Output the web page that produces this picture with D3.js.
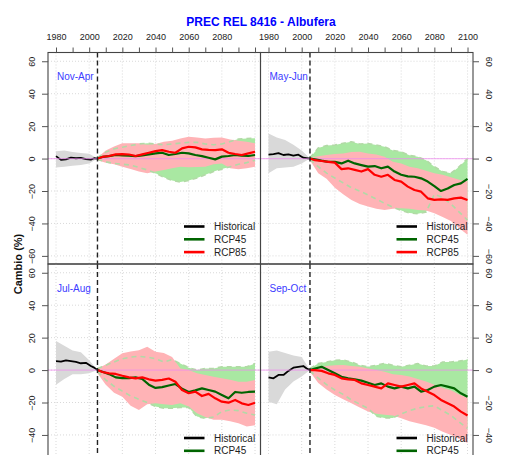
<!DOCTYPE html>
<html><head><meta charset="utf-8">
<script src="https://cdn.jsdelivr.net/npm/d3@7"></script>
<style>
html,body{margin:0;padding:0;background:#fff;overflow:hidden;}
svg{display:block;font-family:"Liberation Sans",Arial,Helvetica,sans-serif;}
</style></head>
<body><svg id="c" width="516" height="455"></svg>
<script>
// ---------- DATA ----------
const title = "PREC REL 8416 - Albufera";
const yLabel = "Cambio (%)";
const seasons = ["Nov-Apr", "May-Jun", "Jul-Aug", "Sep-Oct"];
const legendLabels = ["Historical", "RCP45", "RCP85"];
const xTickValues = [1980, 1990, 2000, 2010, 2020, 2030, 2040, 2050, 2060, 2070, 2080, 2090, 2100];
const xGridValues = [1980, 2000, 2020, 2040, 2060, 2080, 2100];
const yTickValues = [-60, -40, -20, 0, 20, 40, 60];
const refYear = 2005;

const histYears = [1980, 1983, 1986, 1989, 1992, 1995, 1998, 2001, 2003, 2005];
const histBandYears = [1980, 1985, 1990, 1995, 2000, 2005];
const projYears = [2005, 2008, 2012, 2016, 2020, 2024, 2028, 2032, 2036, 2040, 2044, 2048, 2052, 2056, 2060, 2064, 2068, 2072, 2076, 2080, 2084, 2088, 2092, 2096, 2100];
const bandYears = [2005, 2010, 2015, 2020, 2025, 2030, 2035, 2040, 2045, 2050, 2055, 2060, 2065, 2070, 2075, 2080, 2085, 2090, 2095, 2100];

// Nov-Apr
const novApr_hist   = [1.5, -0.8, -0.5, 0.6, 0.2, 0.4, -0.3, -0.6, 0.2, 0];
const novApr_histUp = [4.5, 5, 4, 3.5, 3, 0];
const novApr_histLo = [-5.5, -5, -4.5, -4, -3, 0];
const novApr_rcp45  = [0, 1, 1.5, 2.2, 2, 1.8, 1.5, 2, 2.6, 3.2, 3.6, 2.2, 2.8, 3.6, 3.2, 2.2, 1.5, 0.5, -0.5, 1.2, 1.6, 2.2, 1.8, 1.6, 2.2];
const novApr_rcp85  = [0, 1, 1.6, 2.6, 2.8, 2.5, 1.6, 2.6, 3.6, 4.6, 5.2, 4.2, 3.6, 6.3, 7.3, 6.9, 5.7, 5.4, 5.2, 5.7, 3.6, 2.8, 2.2, 3.2, 4.2];
const novApr_rcp45Up = [0.5, 4, 6, 7, 8, 9, 9.5, 9, 8.5, 9, 9.5, 10, 10, 9, 8.5, 9, 10.5, 12, 12.4, 12.5];
const novApr_rcp45Lo = [-0.5, -2, -3, -3.5, -4, -5.5, -7, -9, -11.5, -13.5, -14.5, -13.5, -12, -10, -8, -6.5, -5, -3.5, -2.5, -1];
const novApr_rcp85Up = [0.5, 5, 7.5, 9.4, 9.5, 9.4, 8.5, 9, 10.4, 11, 12.4, 13.5, 13, 12.4, 12.8, 13, 11.8, 11, 10.4, 9.4];
const novApr_rcp85Lo = [-1, -2.5, -3.5, -5, -6.5, -8, -9, -8, -7, -6, -5, -5.4, -5.2, -5, -3.5, -3, -6, -6.6, -6, -5];

// May-Jun
const mayJun_hist   = [2.4, 2.8, 3.4, 2.2, 2.6, 1.8, 2.4, 0.5, 0.3, 0];
const mayJun_histUp = [15.5, 13, 11.5, 8.5, 5, 0];
const mayJun_histLo = [-9, -6, -5.5, -5, -3, 0];
const mayJun_rcp45  = [0, -0.5, -1.3, -2, -2, -3, -1.3, -3, -4, -5, -4.6, -6, -5, -8, -10, -11, -11.2, -12.2, -14.2, -17, -20, -18.5, -16.3, -15.3, -12.5];
const mayJun_rcp85  = [0, -1, -1.5, -2, -2.5, -6.5, -6, -7, -8, -6.5, -10, -11.2, -10, -13.2, -14.2, -17.3, -19.4, -20.4, -24.5, -25.5, -25.1, -25.5, -24.5, -24.1, -25.5];
const mayJun_rcp45Up = [0.5, 6.5, 8, 8.3, 9.5, 10.4, 9, 9.3, 8.3, 7.3, 5, 4.2, 2, 1.1, -1, -5, -8, -9, -5, 0];
const mayJun_rcp45Lo = [-0.5, -5, -9, -12, -15, -18, -20, -22.4, -25, -27.6, -30, -32, -33.5, -34, -33, -22, -24, -28, -33, -38];
const mayJun_rcp85Up = [0.5, 1.5, 2.2, 2.8, 3.2, 4, 4.2, 3.2, 2.5, 1.1, -2, -3, -5, -6, -7.5, -9, -10, -11.5, -13, -14];
const mayJun_rcp85Lo = [-1, -9, -12.5, -18, -22, -25.5, -28, -29.6, -31, -31.7, -31, -30.6, -31, -31.7, -32, -33.7, -36, -38.5, -43, -47];

// Jul-Aug
const julAug_hist   = [5.5, 5.2, 6, 5.5, 5, 4.2, 4.5, 2.5, 1.5, 0];
const julAug_histUp = [18, 15, 12, 11, 6, 0];
const julAug_histLo = [-9, -5.5, -2.5, -2.5, -2, 0];
const julAug_rcp45  = [0, -1, -2.5, -4.5, -5, -5, -4.5, -5.5, -9, -11, -10.5, -9.5, -8.6, -11.5, -13.5, -12.5, -11.3, -12.3, -13.3, -15.4, -17.4, -13.5, -14, -13.5, -13.3];
const julAug_rcp85  = [0, -1.2, -2, -2.4, -3.5, -4.5, -5.1, -4.5, -5.7, -6.5, -6, -5.2, -7.2, -12.3, -14.3, -13.3, -16, -14.7, -17.4, -19.5, -20.1, -18.4, -20.5, -21.5, -20.1];
const julAug_rcp45Up = [1, 3, 5, 7, 8, 8.5, 8, 7, 5, 6.5, 4, 1.5, 0, 1, 1, 2, 2, 2, 2, 4.1];
const julAug_rcp45Lo = [-1, -6, -10, -13, -16, -18, -20, -22.5, -23.5, -23.5, -23, -23, -28.7, -29.7, -29, -25.6, -24.6, -25, -26.6, -27.7];
const julAug_rcp85Up = [1, 3.5, 7, 10.3, 11.5, 12.3, 14.4, 11.3, 10.5, 8, 1, 0, -2, -3, -4.1, -5.1, -6, -7.2, -7.2, -6.1];
const julAug_rcp85Lo = [-2, -9, -14, -16.4, -22, -24.6, -21, -20.5, -21, -21.5, -20.5, -22.5, -26.6, -29, -30.7, -30.7, -31.5, -32.8, -34.8, -34];

// Sep-Oct
const sepOct_hist   = [-4.5, -5.1, -3, -3, -0.5, 1.5, 2, 2.5, 1, 0];
const sepOct_histUp = [11.3, 12, 10.5, 9, 8, 0];
const sepOct_histLo = [-19.5, -21, -12, -7, -4, 0];
const sepOct_rcp45  = [0, 1, 2, 0, -2, -4.1, -5.1, -5.7, -6.5, -7.8, -9.2, -8.2, -10.2, -11.3, -10.2, -11.3, -10.2, -13.3, -12.3, -10.2, -9.2, -10.2, -11.3, -14.3, -16.5];
const sepOct_rcp85  = [0, 0, -0.5, -2, -3, -5.1, -5.7, -6.1, -8.2, -9.2, -10.2, -11.3, -8.2, -9.2, -10.2, -9.2, -8.2, -11.3, -13.3, -15.4, -18.4, -20.5, -22.5, -25.6, -28];
const sepOct_rcp45Up = [1, 4, 5, 6, 6.2, 5, 3, 2, 3, 4.1, 3, 2, 3, 4, 2.5, 2.5, 5, 5, 5.5, 6.5];
const sepOct_rcp45Lo = [-0.5, -5, -9, -12.3, -15, -18.4, -21, -23.6, -28.5, -29.5, -29.5, -27, -25, -23.5, -22.5, -22, -25, -28, -32, -36];
const sepOct_rcp85Up = [0.5, 2, 2.5, 3, 3.1, 2.5, 2, 1, 0, -1, -2.5, -3, -4, -5.5, -7, -9, -11, -12.5, -15, -17];
const sepOct_rcp85Lo = [-1, -8, -12, -15.4, -18, -20.5, -23, -25.6, -27, -27.5, -28, -29.7, -31.5, -32.8, -34, -35.5, -38, -40, -42.5, -45];

// ---------- BUILD ----------
const panelData = [
  {hist: novApr_hist, histUp: novApr_histUp, histLo: novApr_histLo, r45: novApr_rcp45, r85: novApr_rcp85, r45Up: novApr_rcp45Up, r45Lo: novApr_rcp45Lo, r85Up: novApr_rcp85Up, r85Lo: novApr_rcp85Lo},
  {hist: mayJun_hist, histUp: mayJun_histUp, histLo: mayJun_histLo, r45: mayJun_rcp45, r85: mayJun_rcp85, r45Up: mayJun_rcp45Up, r45Lo: mayJun_rcp45Lo, r85Up: mayJun_rcp85Up, r85Lo: mayJun_rcp85Lo},
  {hist: julAug_hist, histUp: julAug_histUp, histLo: julAug_histLo, r45: julAug_rcp45, r85: julAug_rcp85, r45Up: julAug_rcp45Up, r45Lo: julAug_rcp45Lo, r85Up: julAug_rcp85Up, r85Lo: julAug_rcp85Lo},
  {hist: sepOct_hist, histUp: sepOct_histUp, histLo: sepOct_histLo, r45: sepOct_rcp45, r85: sepOct_rcp85, r45Up: sepOct_rcp45Up, r45Lo: sepOct_rcp45Lo, r85Up: sepOct_rcp85Up, r85Lo: sepOct_rcp85Lo}
];

const svg = d3.select("#c");
const CANVAS_H = 455;
const PW = 212.5, PH = 211.5;
const X0 = [48, 260.5], Y0 = [52.5, 264];
const x = d3.scaleLinear().domain([1975.17, 2103.3]).range([0, PW]);
const y = d3.scaleLinear().domain([-65, 65.4]).range([PH, 0]);

const C = {
  grid: "#cfcfcf", histBand: "#d9d9d9", g45: "#a9e8a2", p85: "#ffb3b6",
  dash45: "#b2d9a6", zero: "#ee88ee", hist: "#000000", l45: "#006400", l85: "#ff0000",
  label: "#3c3cff", title: "#0000ff", frame: "#444", tick: "#555", text: "#222"
};

svg.append("text").attr("x", 261).attr("y", 25.5).attr("text-anchor", "middle")
  .attr("font-size", 12).attr("font-weight", "bold").attr("fill", C.title).text(title);

svg.append("text").attr("transform", "translate(22,264) rotate(-90)").attr("text-anchor", "middle")
  .attr("font-size", 11).attr("font-weight", "bold").attr("fill", "#111").text(yLabel);

panelData.forEach((d, i) => {
  const col = i % 2, row = Math.floor(i / 2);
  const g = svg.append("g").attr("transform", `translate(${X0[col]},${Y0[row]})`);
  const clipId = "clip" + i;
  g.append("clipPath").attr("id", clipId).append("rect").attr("width", PW).attr("height", PH);
  const p = g.append("g").attr("clip-path", `url(#${clipId})`);

  // grid
  p.selectAll(".gx").data(xGridValues).join("line")
    .attr("x1", v => x(v)).attr("x2", v => x(v)).attr("y1", 0).attr("y2", PH)
    .attr("stroke", C.grid).attr("stroke-width", 0.8).attr("stroke-dasharray", "1,2");
  p.selectAll(".gy").data(yTickValues).join("line")
    .attr("y1", v => y(v)).attr("y2", v => y(v)).attr("x1", 0).attr("x2", PW)
    .attr("stroke", C.grid).attr("stroke-width", 0.8).attr("stroke-dasharray", "1,2");

  const band = (yrs, up, lo) => d3.area().x((_, k) => x(yrs[k])).y0((_, k) => y(lo[k])).y1((_, k) => y(up[k]))(yrs);
  const line = (yrs, vals) => d3.line().x((_, k) => x(yrs[k])).y((_, k) => y(vals[k]))(yrs);

  p.append("path").attr("d", band(histBandYears, d.histUp, d.histLo)).attr("fill", C.histBand);
  p.append("path").attr("d", band(bandYears, d.r45Up, d.r45Lo)).attr("fill", C.g45);
  p.append("path").attr("d", band(bandYears, d.r85Up, d.r85Lo)).attr("fill", C.p85);
  [d.r45Up, d.r45Lo].forEach(b => {
    p.append("path").attr("d", line(bandYears, b)).attr("fill", "none")
      .attr("stroke", C.dash45).attr("stroke-width", 1.6).attr("stroke-dasharray", "5,4");
  });
  p.append("path").attr("d", line(histYears, d.hist)).attr("fill", "none")
    .attr("stroke", C.hist).attr("stroke-width", 1.8).attr("stroke-linejoin", "round");
  p.append("line").attr("x1", 0).attr("x2", PW).attr("y1", y(0)).attr("y2", y(0))
    .attr("stroke", C.zero).attr("stroke-width", 1.3).attr("stroke-opacity", 0.6);
  p.append("path").attr("d", line(projYears, d.r45)).attr("fill", "none")
    .attr("stroke", C.l45).attr("stroke-width", 2.2).attr("stroke-linejoin", "round");
  p.append("path").attr("d", line(projYears, d.r85)).attr("fill", "none")
    .attr("stroke", C.l85).attr("stroke-width", 2.2).attr("stroke-linejoin", "round");
  p.append("line").attr("x1", x(refYear)).attr("x2", x(refYear)).attr("y1", 0).attr("y2", PH)
    .attr("stroke", "#222").attr("stroke-width", 1.4).attr("stroke-dasharray", "5,3");

  // season label
  g.append("text").attr("x", x(1980) + 1).attr("y", 27.5).attr("font-size", 10)
    .attr("fill", C.label).text(seasons[i]);

  // legend (rows lying wholly below the visible canvas are not drawn)
  const legColors = [C.hist, C.l45, C.l85];
  legendLabels.forEach((lab, k) => {
    const ly = 174 + k * 12.8;
    if (Y0[row] + ly - 5 > CANVAS_H) return;
    g.append("line").attr("x1", 136).attr("x2", 156.5).attr("y1", ly).attr("y2", ly)
      .attr("stroke", legColors[k]).attr("stroke-width", 2.6);
    g.append("text").attr("x", 166).attr("y", ly).attr("dy", "0.35em").attr("font-size", 10)
      .attr("fill", C.text).text(lab);
  });

  // frame
  g.append("rect").attr("width", PW).attr("height", PH).attr("fill", "none")
    .attr("stroke", C.frame).attr("stroke-width", 1.1);

  // axes
  const visibleY = yTickValues.filter(v => Y0[row] + y(v) - 8 < CANVAS_H);
  if (row === 0) {
    const ax = g.append("g").call(d3.axisTop(x).tickValues(xTickValues).tickSize(5).tickPadding(8)
      .tickFormat(v => (v % 20 === 0 && !(col === 0 && v === 2100)) ? v : ""));
    ax.select(".domain").remove();
    ax.selectAll("line").attr("stroke", C.tick);
    ax.selectAll("text").attr("font-size", 9).attr("fill", C.text).attr("font-family", null);
  }
  if (col === 0) {
    const ay = g.append("g").call(d3.axisLeft(y).tickValues(visibleY).tickSize(6));
    ay.select(".domain").remove();
    ay.selectAll("line").attr("stroke", C.tick);
    ay.selectAll("text").attr("x", null).attr("dy", "0.35em").attr("text-anchor", "middle")
      .attr("transform", "translate(-16,0) rotate(-90)").attr("font-size", 9).attr("fill", C.text).attr("font-family", null);
  } else {
    const ay = g.append("g").attr("transform", `translate(${PW},0)`).call(d3.axisRight(y).tickValues(visibleY).tickSize(6));
    ay.select(".domain").remove();
    ay.selectAll("line").attr("stroke", C.tick);
    ay.selectAll("text").attr("x", null).attr("dy", "0.35em").attr("text-anchor", "middle")
      .attr("transform", "translate(16,0) rotate(90)").attr("font-size", 9).attr("fill", C.text).attr("font-family", null);
  }
});
</script></body></html>
